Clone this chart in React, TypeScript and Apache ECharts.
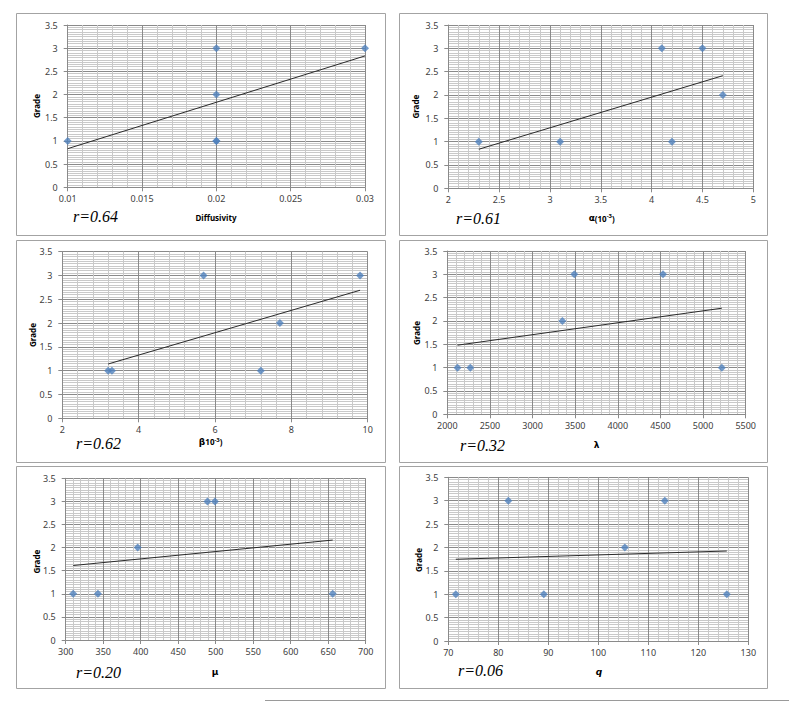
import React, { useEffect, useRef } from "react";
import * as echarts from "echarts";

// ---- data ----
const diffusivity = [0.01, 0.02, 0.02, 0.02, 0.02, 0.03];
const diffusivityGrade = [1, 3, 2, 1, 1, 3];
const alpha = [2.3, 3.1, 4.1, 4.2, 4.5, 4.7];
const alphaGrade = [1, 1, 3, 1, 3, 2];
const beta = [3.2, 3.3, 5.7, 7.2, 7.7, 9.8];
const betaGrade = [1, 1, 3, 1, 2, 3];
const lambda = [2120, 2270, 3350, 3490, 4530, 5220];
const lambdaGrade = [1, 1, 2, 3, 3, 1];
const mu = [310, 343, 396, 489, 499, 656];
const muGrade = [1, 1, 2, 3, 3, 1];
const qVals = [71.5, 82, 89.1, 105.3, 113.3, 125.7];
const qGrade = [1, 3, 1, 2, 3, 1];

const rLabels = ["r=0.64", "r=0.61", "r=0.62", "r=0.32", "r=0.20", "r=0.06"];
const yAxisTitle = "Grade";
const xAxisRanges = [
  [0.01, 0.03, 0.005],
  [2, 5, 0.5],
  [2, 10, 2],
  [2000, 5500, 500],
  [300, 700, 50],
  [70, 130, 10],
];
const yRange = [0, 3.5, 0.5];

// ---- layout ----
const panels = [
  { xs: diffusivity, ys: diffusivityGrade, box: [16, 13, 369, 222], grid: [67.7, 25, 297.3, 162.3], grade: [36.7, 106], xt: [216, 217.3], r: [73, 216.5] },
  { xs: alpha, ys: alphaGrade, box: [399, 13, 368, 222], grid: [448.3, 25, 305, 163.3], grade: [415, 106.7], xt: [601.7, 218], r: [456, 218] },
  { xs: beta, ys: betaGrade, box: [16, 240, 369, 222], grid: [62.3, 251.7, 305.4, 166.6], grade: [32.3, 335], xt: [210.7, 441.5], r: [76, 443] },
  { xs: lambda, ys: lambdaGrade, box: [399, 240, 368, 222], grid: [447.3, 251, 298.4, 163.3], grade: [416.7, 333], xt: [596.7, 445], r: [460, 445] },
  { xs: mu, ys: muGrade, box: [16, 466, 369, 222], grid: [65.7, 478.3, 300, 161.7], grade: [36.7, 561.7], xt: [215, 671.7], r: [76, 672] },
  { xs: qVals, ys: qGrade, box: [399, 466, 368, 222], grid: [448.3, 477.3, 300, 163.7], grade: [418.3, 560], xt: [599, 671.7], r: [458, 670.7] },
];

const xTitleTexts = [
  "{b|Diffusivity}",
  "{g|α}{b|(10}{s|-3}{b|)}",
  "{g|β}{b|10}{s2|-3}{b|)}",
  "{g|λ}",
  "{g|μ}",
  "{gi|q}",
];

function trend(xs: number[], ys: number[]) {
  const n = xs.length;
  const mx = xs.reduce((a, b) => a + b, 0) / n;
  const my = ys.reduce((a, b) => a + b, 0) / n;
  let sxy = 0, sxx = 0;
  for (let i = 0; i < n; i++) {
    sxy += (xs[i] - mx) * (ys[i] - my);
    sxx += (xs[i] - mx) * (xs[i] - mx);
  }
  const b = sxy / sxx;
  const a = my - b * mx;
  const x0 = Math.min(...xs);
  const x1 = Math.max(...xs);
  return [[x0, a + b * x0], [x1, a + b * x1]];
}

const FONT = "'Noto Sans', 'Liberation Sans', sans-serif";
const MAJOR = "#8a8a8a";
const MINOR = "#c9c9c9";

export default function App() {
  const ref = useRef<HTMLDivElement>(null);
  useEffect(() => {
    if (!ref.current) return;
    const chart = echarts.init(ref.current, undefined, { renderer: "svg" });
    const grids: any[] = [];
    const xAxes: any[] = [];
    const yAxes: any[] = [];
    const series: any[] = [];
    const graphics: any[] = [];

    panels.forEach((p, i) => {
      graphics.push({
        type: "rect",
        shape: { x: p.box[0] + 0.5, y: p.box[1] + 0.5, width: p.box[2], height: p.box[3] },
        style: { fill: "#fff", stroke: "#a3a3a3", lineWidth: 1 },
        z: -10,
        silent: true,
      });
      grids.push({ left: p.grid[0], top: p.grid[1], width: p.grid[2], height: p.grid[3], containLabel: false });
      const [mn, mx, iv] = xAxisRanges[i];
      xAxes.push({
        type: "value",
        gridIndex: i,
        min: mn,
        max: mx,
        interval: iv,
        axisLine: { show: true, onZero: false, lineStyle: { color: MAJOR, width: 1 } },
        axisTick: { show: true, inside: false, length: 4, lineStyle: { color: MAJOR } },
        minorTick: { show: false, splitNumber: 5 },
        splitLine: { show: true, lineStyle: { color: MAJOR, width: 1 } },
        minorSplitLine: { show: true, lineStyle: { color: MINOR, width: 1 } },
        axisLabel: {
          color: "#404040",
          fontSize: 9,
          fontFamily: FONT,
          margin: 7,
          formatter: (v: number) => String(parseFloat(v.toFixed(6))),
        },
      });
      yAxes.push({
        type: "value",
        gridIndex: i,
        min: yRange[0],
        max: yRange[1],
        interval: yRange[2],
        axisLine: { show: true, onZero: false, lineStyle: { color: MAJOR, width: 1 } },
        axisTick: { show: true, inside: false, length: 4, lineStyle: { color: MAJOR } },
        minorTick: { show: false, splitNumber: 10 },
        splitLine: { show: true, lineStyle: { color: MAJOR, width: 1 } },
        minorSplitLine: { show: true, lineStyle: { color: MINOR, width: 1 } },
        axisLabel: {
          color: "#404040",
          fontSize: 9,
          fontFamily: FONT,
          margin: 10,
          formatter: (v: number) => String(parseFloat(v.toFixed(6))),
        },
      });
      series.push({
        type: "line",
        xAxisIndex: i,
        yAxisIndex: i,
        data: trend(p.xs, p.ys),
        showSymbol: false,
        symbol: "none",
        lineStyle: { color: "#2a2a2a", width: 1 },
        silent: true,
        z: 2,
      });
      series.push({
        type: "scatter",
        xAxisIndex: i,
        yAxisIndex: i,
        data: p.xs.map((x, k) => [x, p.ys[k]]),
        symbol: "diamond",
        symbolSize: 8,
        itemStyle: { color: "#4F81BD" },
        z: 3,
      });
      graphics.push({
        type: "text",
        x: p.grade[0],
        y: p.grade[1],
        rotation: Math.PI / 2,
        style: {
          text: yAxisTitle,
          fontSize: 8,
          fontWeight: "bold",
          fontFamily: FONT,
          fill: "#000",
          align: "center",
          verticalAlign: "middle",
        },
        z: 5,
      });
      graphics.push({
        type: "text",
        x: p.xt[0],
        y: p.xt[1],
        style: {
          text: xTitleTexts[i],
          align: "center",
          verticalAlign: "middle",
          rich: {
            b: { fontSize: 8, fontWeight: "bold", fontFamily: FONT, fill: "#000" },
            g: { fontSize: 9, fontWeight: "bold", fontFamily: "'DejaVu Sans', sans-serif", fill: "#000" },
            gi: { fontSize: 9, fontWeight: "bold", fontStyle: "italic", fontFamily: "'DejaVu Sans', sans-serif", fill: "#000" },
            s: { fontSize: 6, fontWeight: "bold", fontFamily: FONT, fill: "#000", padding: [0, 0, 5, 0] },
            s2: { fontSize: 6, fontWeight: "bold", fontFamily: FONT, fill: "#000", padding: [0, 0, 3, 0] },
          },
        },
        z: 5,
      });
      graphics.push({
        type: "text",
        x: p.r[0],
        y: p.r[1],
        style: {
          text: rLabels[i],
          fontSize: 16,
          fontStyle: "italic",
          fontFamily: "'Liberation Serif', 'DejaVu Serif', serif",
          fill: "#000",
          align: "left",
          verticalAlign: "middle",
        },
        z: 5,
      });
    });

    graphics.push({
      type: "line",
      shape: { x1: 265, y1: 700.5, x2: 789, y2: 700.5 },
      style: { stroke: "#9a9a9a", lineWidth: 1 },
      silent: true,
    });

    chart.setOption({
      animation: false,
      backgroundColor: "#fff",
      grid: grids,
      xAxis: xAxes,
      yAxis: yAxes,
      series,
      graphic: graphics,
    });
    return () => chart.dispose();
  }, []);
  return (
    <div
      ref={ref}
      style={{ position: "fixed", left: 0, top: 0, width: 789, height: 702 }}
    />
  );
}
